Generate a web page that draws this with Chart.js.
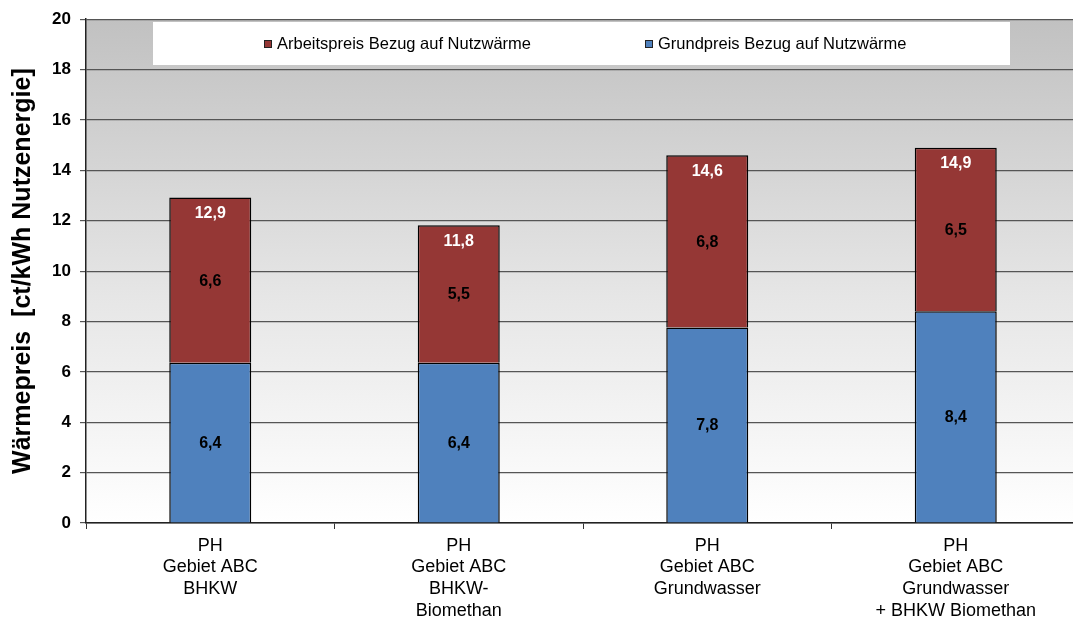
<!DOCTYPE html>
<html>
<head>
<meta charset="utf-8">
<script src="https://cdn.jsdelivr.net/npm/chart.js@4/dist/chart.umd.min.js"></script>
<style>
html,body{margin:0;padding:0;overflow:hidden;background:#fff;}
#wrap{width:1095px;height:619px;position:relative;}
</style>
</head>
<body>
<div id="wrap"><canvas id="c" width="1095" height="619"></canvas></div>
<script>
const categories = [
  ["PH","Gebiet ABC","BHKW"],
  ["PH","Gebiet ABC","BHKW-","Biomethan"],
  ["PH","Gebiet ABC","Grundwasser"],
  ["PH","Gebiet ABC","Grundwasser","+ BHKW Biomethan"]
];
const grundpreis = [6.36, 6.36, 7.76, 8.41];
const arbeitspreis = [6.56, 5.46, 6.84, 6.49];
const yTicks = [0,2,4,6,8,10,12,14,16,18,20];
const labelGrund = "Grundpreis Bezug auf Nutzwärme";
const labelArbeit = "Arbeitspreis Bezug auf Nutzwärme";
const yTitle = "Wärmepreis  [ct/kWh Nutzenergie]";

const BLUE = "#4F81BD", RED = "#953735";
const FONT = "'Liberation Sans', Arial, sans-serif";
const fmt = v => v.toFixed(1).replace(".", ",");

const bgPlugin = {
  id: "bg",
  beforeDraw(chart) {
    const {ctx, chartArea: a} = chart;
    const g = ctx.createLinearGradient(0, a.top, 0, a.bottom);
    g.addColorStop(0, "#c1c1c1");
    g.addColorStop(0.55, "#e6e6e6");
    g.addColorStop(1, "#ffffff");
    ctx.save();
    ctx.fillStyle = g;
    ctx.fillRect(a.left, a.top, a.right - a.left, a.bottom - a.top);
    ctx.restore();
  }
};

const labelPlugin = {
  id: "labels",
  afterDatasetsDraw(chart) {
    const ctx = chart.ctx;
    ctx.save();
    ctx.font = "bold 16px " + FONT;
    ctx.textAlign = "center";
    ctx.textBaseline = "middle";
    chart.data.datasets.forEach((ds, di) => {
      const meta = chart.getDatasetMeta(di);
      meta.data.forEach((bar, i) => {
        ctx.fillStyle = "#000";
        ctx.fillText(fmt(ds.data[i]), bar.x, (bar.y + bar.base) / 2 + 1);
      });
    });
    const top = chart.getDatasetMeta(chart.data.datasets.length - 1);
    top.data.forEach((bar, i) => {
      const total = grundpreis[i] + arbeitspreis[i];
      ctx.fillStyle = "#fff";
      ctx.fillText(fmt(total), bar.x, bar.y + 16);
    });
    ctx.restore();
  }
};

const legendPlugin = {
  id: "legendBox",
  afterDraw(chart) {
    const ctx = chart.ctx;
    ctx.save();
    ctx.fillStyle = "#fff";
    ctx.fillRect(153, 22, 857, 43);
    ctx.font = "16.5px " + FONT;
    ctx.textBaseline = "middle";
    ctx.textAlign = "left";
    const items = [
      {x: 264, color: RED, text: labelArbeit},
      {x: 645, color: BLUE, text: labelGrund}
    ];
    items.forEach(it => {
      ctx.fillStyle = it.color;
      ctx.fillRect(it.x, 40, 8, 8);
      ctx.strokeStyle = "#222";
      ctx.lineWidth = 1;
      ctx.strokeRect(it.x + 0.5, 40.5, 7, 7);
      ctx.fillStyle = "#000";
      ctx.fillText(it.text, it.x + 13, 44.5);
    });
    ctx.restore();
  }
};

new Chart(document.getElementById("c"), {
  type: "bar",
  data: {
    labels: categories,
    datasets: [
      {label: labelGrund, data: grundpreis, backgroundColor: BLUE, borderColor: "#000", borderWidth: 1.5,
       barPercentage: 0.33, categoryPercentage: 1},
      {label: labelArbeit, data: arbeitspreis, backgroundColor: RED, borderColor: "#000", borderWidth: 1.5,
       barPercentage: 0.33, categoryPercentage: 1}
    ]
  },
  options: {
    responsive: false,
    animation: false,
    layout: {padding: {top: 17, right: 15, left: 0, bottom: 0}},
    plugins: {legend: {display: false}, tooltip: {enabled: false}},
    scales: {
      x: {
        stacked: true,
        grid: {offset: true, drawOnChartArea: false, drawTicks: true, tickLength: 6, color: "#333"},
        border: {color: "#222", width: 1.5},
        ticks: {color: "#000", font: {family: FONT, size: 18, lineHeight: 1.2}, padding: 6, maxRotation: 0, autoSkip: false},
        afterFit(s) { s.height = 96; }
      },
      y: {
        stacked: true,
        min: 0, max: 20,
        afterBuildTicks(s) { s.ticks = yTicks.map(v => ({value: v})); },
        grid: {color: "#555", lineWidth: 1.2, tickLength: 6},
        border: {color: "#222", width: 1.5},
        ticks: {color: "#000", font: {family: FONT, size: 17, weight: "bold"}, padding: 9},
        title: {display: true, text: yTitle, color: "#000", font: {family: FONT, size: 25, weight: "bold"}, padding: {top: 8, bottom: 0}},
        afterFit(s) { s.width = 86; }
      }
    }
  },
  plugins: [bgPlugin, labelPlugin, legendPlugin]
});
</script>
</body>
</html>
